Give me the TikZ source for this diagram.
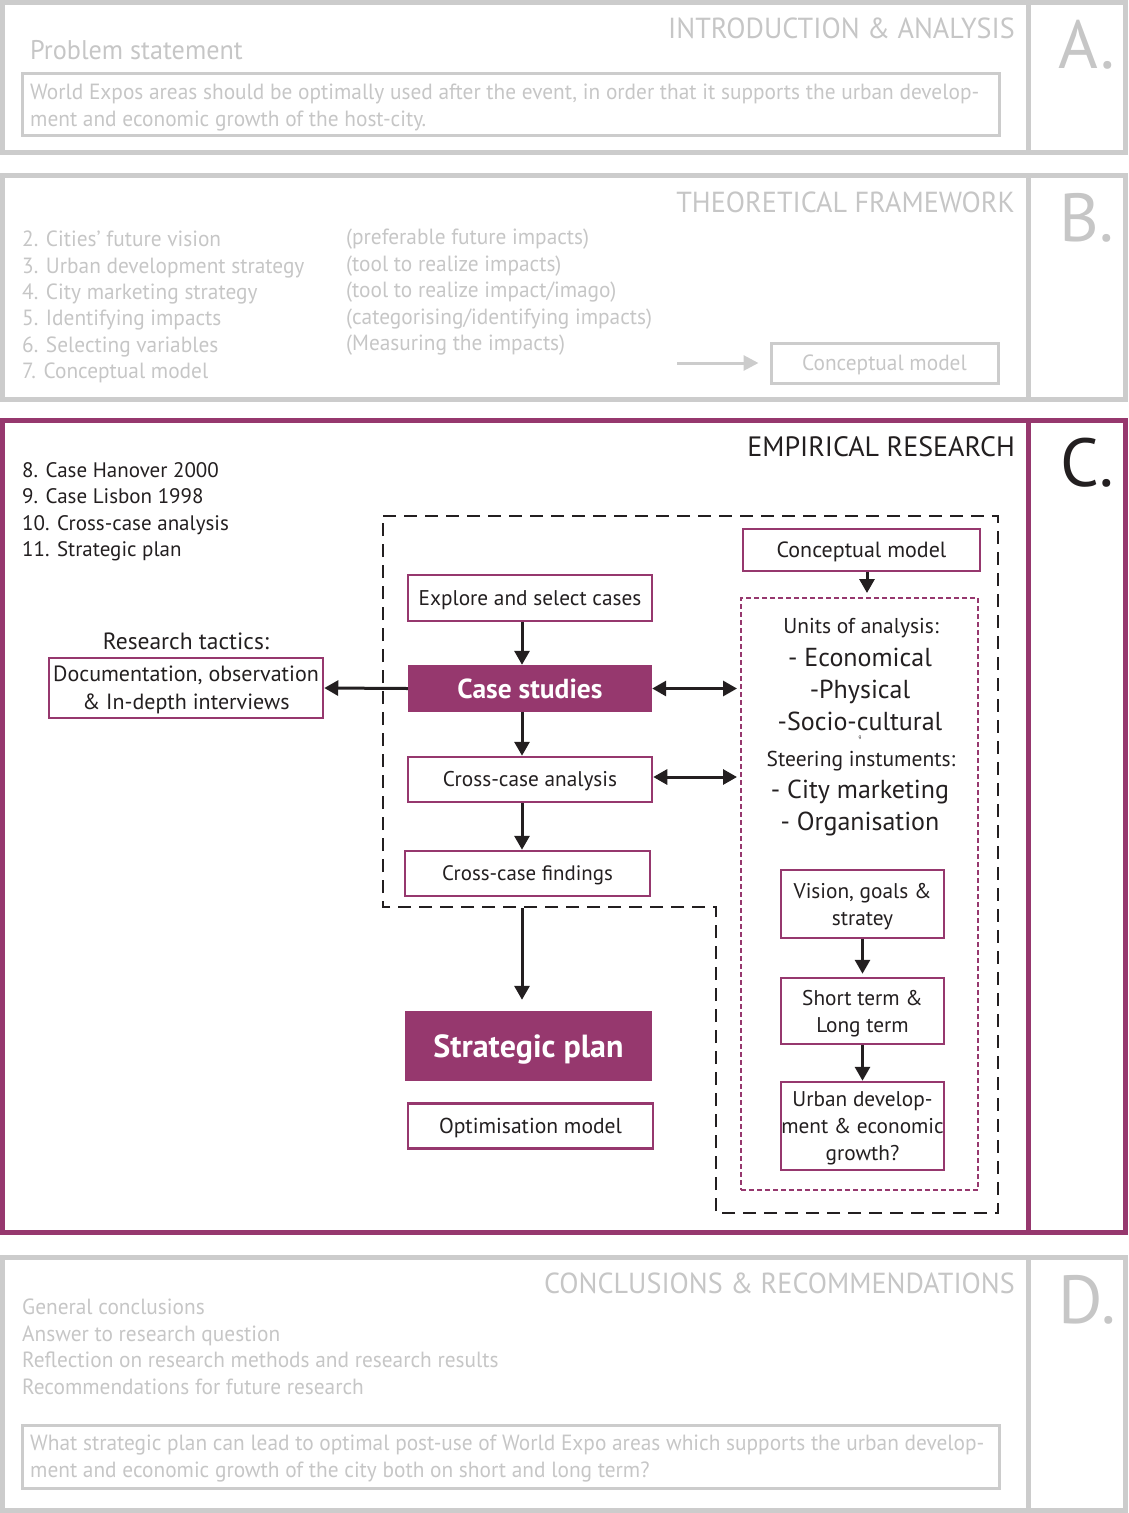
\documentclass[tikz,border=0pt]{standalone}
\usepackage{fontspec}
\setmainfont{PT Sans}
\newfontfamily\condfont[FakeStretch=0.97]{PT Sans}
\usetikzlibrary{arrows.meta}
\definecolor{plum}{RGB}{150,56,110}
\definecolor{framegrey}{RGB}{204,204,204}
\definecolor{greytext}{RGB}{198,198,198}
\definecolor{ink}{RGB}{35,31,32}
\newcommand{\fsz}[2]{\fontsize{#1pt}{#2pt}\selectfont}

\begin{document}
\begin{tikzpicture}[x=1pt,y=-1pt,
  sectionframe/.style={line width=5pt},
  % single text lines: node centre sits at mid cap height
  oneline/.style={text height=#1, text depth=0pt},
  greylabel/.style={text=greytext, inner sep=0pt, oneline=15.4pt, font=\condfont\fsz{22}{26}},
  greytitle/.style={text=greytext, inner sep=0pt, oneline=20.3pt, anchor=east, font=\condfont\fsz{29}{34}},
  letter/.style={inner sep=0pt, font=\fsz{68}{70}},
  greybox/.style={draw=framegrey, line width=3pt, inner sep=0pt},
  inktext/.style={text=ink, inner sep=0pt, oneline=14.7pt, font=\fsz{21}{26}},
  pbox/.style={draw=plum, line width=2.5pt, fill=white, text=ink, inner sep=0pt, align=center, font=\fsz{21.3}{27}},
  pfill/.style={fill=plum, text=white, inner sep=0pt, font=\bfseries\fsz{27.5}{32}},
  arr/.style={-{Triangle[length=14pt,width=15pt]}, line width=3pt, draw=ink},
  dblarr/.style={{Triangle[length=14pt,width=15pt]}-{Triangle[length=14pt,width=15pt]}, line width=3pt, draw=ink},
  pdash/.style={draw=plum, line width=2pt, dash pattern=on 5pt off 3pt, inner sep=0pt},
  kdash/.style={draw=ink, line width=2.5pt, dash pattern=on 13pt off 8pt},
  unitsmall/.style={text=ink, inner sep=0pt, oneline=15pt, font=\fsz{21.5}{26}},
  unitbig/.style={text=ink, inner sep=0pt, oneline=18.2pt, font=\fsz{26}{32}},
]
\useasboundingbox (0,0) rectangle (1128,1513);

% ---------- A. Introduction & analysis ----------
\draw[framegrey, sectionframe] (2.5,2.5) rectangle (1125.5,152.5);
\draw[framegrey, sectionframe] (1028,2.5) -- (1028,152.5);
\node[letter, text=greytext] (letterA) at (1087,45) {A.};
\node[greytitle] (titleA) at (1015,28) {INTRODUCTION \& ANALYSIS};
\node[greylabel, anchor=west, oneline=18.9pt, font=\condfont\fsz{27}{30}] (problem) at (30,50) {Problem statement};
\node[greybox, minimum width=977pt, minimum height=62pt] (problembox) at (510.5,104) {};
\node[greylabel, anchor=west] (probA) at (30,92) {World Expos areas should be optimally used after the event, in order that it supports the urban develop-};
\node[greylabel, anchor=west] (probB) at (30,119) {ment and economic growth of the host-city.};

% ---------- B. Theoretical framework ----------
\draw[framegrey, sectionframe] (2.5,175.5) rectangle (1125.5,399.5);
\draw[framegrey, sectionframe] (1028,175.5) -- (1028,399.5);
\node[letter, text=greytext] (letterB) at (1087,218) {B.};
\node[greytitle] (titleB) at (1015,202) {THEORETICAL FRAMEWORK};
\foreach \t [count=\i] in {2. Cities’ future vision, 3. Urban development strategy, 4. City marketing strategy, 5. Identifying impacts, 6. Selecting variables, 7. Conceptual model}
  \node[greylabel, anchor=west] (theo\i) at (22,{239+26.4*(\i-1)}) {\t};
\foreach \t [count=\i] in {(preferable future impacts), (tool to realize impacts), (tool to realize impact/imago), (categorising/identifying impacts), (Measuring the impacts)}
  \node[greylabel, anchor=west] (note\i) at (346,{237+26.5*(\i-1)}) {\t};
\node[greybox, minimum width=227pt, minimum height=40pt, text=greytext, oneline=15.4pt, font=\condfont\fsz{22}{26}] (conceptB) at (884.5,363) {Conceptual model};
\coordinate (arrowstartB) at (677,363);
\draw[draw=framegrey, line width=3pt, -{Triangle[length=15pt,width=15pt]}, shorten >=11pt] (arrowstartB) -- (conceptB.west);

% ---------- C. Empirical research ----------
\draw[plum, sectionframe] (2.5,420.5) rectangle (1125.5,1232.5);
\draw[plum, sectionframe] (1028,420.5) -- (1028,1232.5);
\node[letter, text=ink] (letterC) at (1087,463) {C.};
\node[inktext, anchor=east, oneline=19.6pt, font=\fsz{28}{34}] (titleC) at (1015,447) {EMPIRICAL RESEARCH};
\foreach \t [count=\i] in {8. Case Hanover 2000, 9. Case Lisbon 1998, 10. Cross-case analysis, 11. Strategic plan}
  \node[inktext, anchor=west] (emp\i) at (22,{470+26.4*(\i-1)}) {\t};

% dashed outline around the case study chain
\draw[kdash] (383,516) -- (998,516) -- (998,1213) -- (716,1213) -- (716,907) -- (383,907) -- cycle;

% main chain
\node[pbox, oneline=14.9pt, minimum width=244pt, minimum height=46pt] (explore) at (530,598) {Explore and select cases};
\node[pfill, oneline=19.3pt, minimum width=244pt, minimum height=47pt] (cases) at (530,688.5) {Case studies};
\node[pbox, oneline=14.9pt, minimum width=244pt, minimum height=45pt] (analysis) at (530,779.5) {Cross-case analysis};
\node[pbox, oneline=14.6pt, minimum width=245pt, minimum height=45pt, font=\fsz{20.9}{27}] (findings) at (527.5,873.5) {Cross-case findings};
\node[pfill, oneline=22.4pt, minimum width=247pt, minimum height=70pt, font=\bfseries\fsz{32}{36}] (strategic) at (528.5,1046) {Strategic plan};
\node[pbox, oneline=15.1pt, minimum width=245pt, minimum height=45pt, font=\fsz{21.6}{27}] (optim) at (530.5,1126) {Optimisation model};

% research tactics
\node[inktext, oneline=16.5pt, font=\fsz{23.5}{28}] (tactics) at (186,641) {Research tactics:};
\node[pbox, text depth=0pt, minimum width=274pt, minimum height=60pt, font=\fsz{22}{28}] (docs) at (186,688) {Documentation, observation\\\& In-depth interviews};

% conceptual model and units of analysis
\node[pbox, oneline=15.4pt, minimum width=237pt, minimum height=42pt, font=\fsz{22}{27}] (conceptC) at (861.5,550) {Conceptual model};
\node[pdash, minimum width=237pt, minimum height=592pt] (units) at (859.5,894) {};
\node[unitsmall] (unitshead) at (861,626) {Units of analysis:};
\node[unitbig] (econ) at (860,657) {- Economical};
\node[unitbig] (phys) at (860,689) {-Physical};
\node[unitbig] (socio) at (860,721) {-Socio-cultural};
\node[text=ink, inner sep=0pt, font=\fsz{5}{6}] (tinyg) at (860,738) {g};
\node[unitsmall] (steerhead) at (861,759) {Steering instuments:};
\node[unitbig] (citym) at (860,789) {- City marketing};
\node[unitbig] (organ) at (860,821) {- Organisation};

\node[pbox, text depth=0pt, minimum width=163pt, minimum height=68pt] (vision) at (862.5,904) {Vision, goals \&\\stratey};
\node[pbox, text depth=0pt, minimum width=163pt, minimum height=66pt] (terms) at (862.5,1011) {Short term \&\\Long term};
\node[pbox, text depth=0pt, minimum width=163pt, minimum height=88pt] (urban) at (862.5,1126) {Urban develop-\\ment \& economic\\growth?};

% connectors
\coordinate (spine) at (522,0);
\coordinate (conceptdrop) at (867,0);
\draw[arr] (explore.south -| spine) -- (cases.north -| spine);
\draw[arr] (cases.south -| spine) -- (analysis.north -| spine);
\draw[arr] (analysis.south -| spine) -- (findings.north -| spine);
\draw[arr, shorten <=11pt, shorten >=11pt] (findings.south -| spine) -- (strategic.north -| spine);
\draw[arr] (cases.west) -- (docs.east);
\draw[dblarr, shorten >=3pt] (cases.east) -- (cases.east -| units.west);
\draw[dblarr, shorten >=3pt] (analysis.east |- 0,777) -- (units.west |- 0,777);
\draw[arr, shorten >=4pt] (conceptC.south -| conceptdrop) -- (units.north -| conceptdrop);
\draw[arr, shorten >=3pt] (vision.south) -- (terms.north);
\draw[arr] (terms.south) -- (urban.north);

% ---------- D. Conclusions & recommendations ----------
\draw[framegrey, sectionframe] (2.5,1257.5) rectangle (1125.5,1510.5);
\draw[framegrey, sectionframe] (1028,1257.5) -- (1028,1510.5);
\node[letter, text=greytext] (letterD) at (1087,1300) {D.};
\node[greytitle] (titleD) at (1015,1283) {CONCLUSIONS \& RECOMMENDATIONS};
\foreach \t [count=\i] in {General conclusions, Answer to research question, Reflection on research methods and research results, Recommendations for future research}
  \node[greylabel, anchor=west] (concl\i) at (22,{1307+26.6*(\i-1)}) {\t};
\node[greybox, minimum width=977pt, minimum height=63pt] (questionbox) at (510.5,1456.5) {};
\node[greylabel, anchor=west] (questA) at (30,1443) {What strategic plan can lead to optimal post-use of World Expo areas which supports the urban develop-};
\node[greylabel, anchor=west] (questB) at (30,1470) {ment and economic growth of the city both on short and long term?};
\end{tikzpicture}
\end{document}
